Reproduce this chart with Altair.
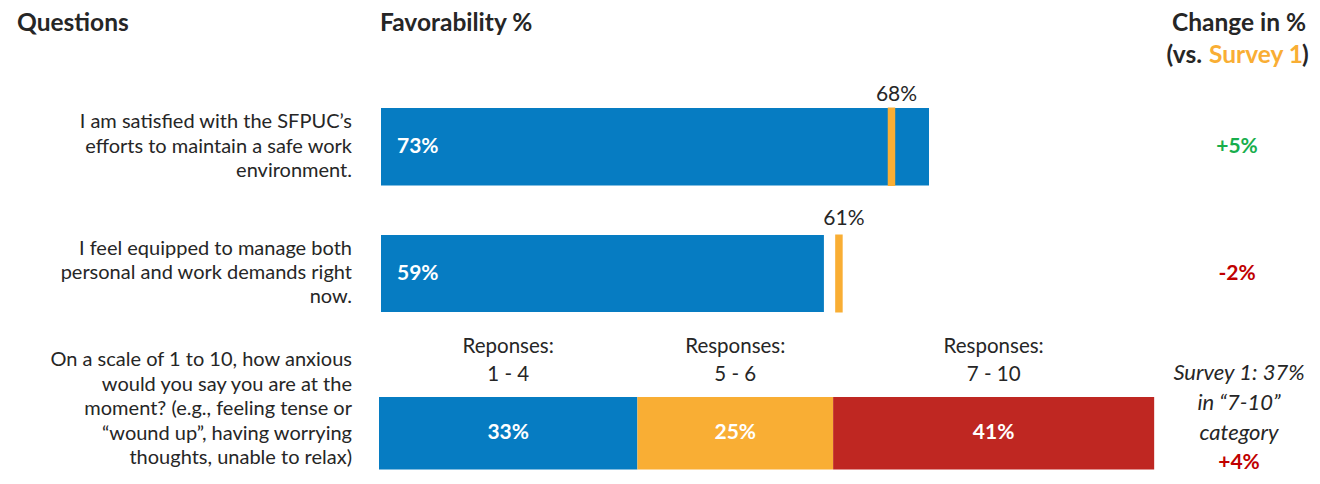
import altair as alt
import pandas as pd

# ---------------- data ----------------
questions = [
    "I am satisfied with the SFPUC\u2019s\nefforts to maintain a safe work\nenvironment.",
    "I feel equipped to manage both\npersonal and work demands right\nnow.",
    "On a scale of 1 to 10, how anxious\nwould you say you are at the\nmoment? (e.g., feeling tense or\n\u201cwound up\u201d, having worrying\nthoughts, unable to relax)",
]
fav_current = [73, 59]
fav_survey1 = [68, 61]
fav_change = ["+5%", "-2%"]

anx_groups = ["Reponses:\n1 - 4", "Responses:\n5 - 6", "Responses:\n7 - 10"]
anx_pct = [33, 25, 41]
anx_note = "Survey 1: 37%\nin \u201c7-10\u201d\ncategory"
anx_change = "+4%"

header_texts = ["Questions", "Favorability %", "Change in %", "(vs.", "Survey 1", ")"]

# ---------------- style ----------------
FONT = "Lato"
TXT = "#262626"
BLUE = "#067CC2"
ORANGE = "#F9AE34"
RED = "#BF2722"
GREEN = "#18AE4C"
DARKRED = "#C00000"
W = 1304
QSIZE = 20
LSIZE = 21
HSIZE = 24.5

xs12 = alt.Scale(domain=[0, 100], range=[373, 1123.7])
xs3 = alt.Scale(domain=[0, 100], range=[371, 1154])


def band_y(height, top, bottom):
    b = bottom - top
    p_o = (height / b - 1) / 2
    align = top / (height - b)
    return alt.Y("q:N", axis=None,
                 scale=alt.Scale(paddingInner=0, paddingOuter=p_o, align=align))


def header_chart():
    df = pd.DataFrame({"label": header_texts, "k": list(range(len(header_texts)))})
    spec = [  # (x, y, align, colour)
        (9, 16, "left", TXT),
        (372, 16, "left", TXT),
        (1231, 16, "center", TXT),
        (1194, 48, "right", TXT),
        (1201, 48, "left", ORANGE),
        (1294, 48, "left", TXT),
    ]
    layers = []
    for k, (xv, yv, al, col) in enumerate(spec):
        layers.append(
            alt.Chart(df).transform_filter(f"datum.k == {k}")
            .mark_text(font=FONT, fontSize=HSIZE, fontWeight="bold", color=col,
                       align=al, baseline="middle")
            .encode(x=alt.value(xv), y=alt.value(yv), text="label:N")
        )
    return alt.layer(*layers).properties(width=W, height=64)


def fav_row(i, height, top, bottom, label_dy, q_dy):
    df = pd.DataFrame({
        "q": [f"q{i}"],
        "question": [questions[i]],
        "cur": [fav_current[i]],
        "s1": [fav_survey1[i]],
        "cur_label": [f"{fav_current[i]}%"],
        "s1_label": [f"{fav_survey1[i]}%"],
        "change": [fav_change[i]],
    })
    y = band_y(height, top, bottom)
    base = alt.Chart(df).encode(y=y)
    qtext = base.mark_text(font=FONT, fontSize=QSIZE, color=TXT, align="right",
                           baseline="middle", lineBreak="\n", lineHeight=24.3,
                           dy=q_dy).encode(
        x=alt.value(344), text="question:N")
    bar = base.mark_bar(color=BLUE).encode(x=alt.X("cur:Q", scale=xs12, axis=None))
    tick = base.mark_tick(color=ORANGE, thickness=7.5, size=bottom - top + 1, opacity=1).encode(
        x=alt.X("s1:Q", scale=xs12, axis=None))
    cur_lab = base.mark_text(font=FONT, fontSize=LSIZE, fontWeight="bold", color="white",
                             align="left", baseline="middle").encode(
        x=alt.value(389), text="cur_label:N")
    s1_lab = base.mark_text(font=FONT, fontSize=LSIZE, color=TXT, align="center",
                            baseline="middle", dy=label_dy, dx=5).encode(
        x=alt.X("s1:Q", scale=xs12, axis=None), text="s1_label:N")
    chg_color = GREEN if fav_change[i].startswith("+") else DARKRED
    chg = base.mark_text(font=FONT, fontSize=LSIZE, fontWeight="bold", color=chg_color,
                         align="center", baseline="middle").encode(
        x=alt.value(1229), text="change:N")
    return alt.layer(qtext, bar, tick, cur_lab, s1_lab, chg).properties(width=W, height=height)


def anx_row(height, top, bottom):
    seg = pd.DataFrame({
        "q": ["q2"] * 3,
        "group": anx_groups,
        "pct": anx_pct,
        "order": [0, 1, 2],
        "pct_label": [f"{p}%" for p in anx_pct],
    })
    info = pd.DataFrame({"q": ["q2"], "question": [questions[2]],
                         "note": [anx_note], "change": [anx_change]})
    y = band_y(height, top, bottom)
    sbase = (alt.Chart(seg)
             .transform_stack(stack="pct", groupby=["q"], as_=["x0", "x1"],
                              sort=[alt.SortField("order", order="ascending")])
             .transform_calculate(mid="(datum.x0 + datum.x1) / 2")
             .encode(y=y))
    bars = sbase.mark_bar().encode(
        x=alt.X("x0:Q", scale=xs3, axis=None), x2="x1:Q",
        color=alt.Color("group:N", legend=None,
                        scale=alt.Scale(domain=anx_groups, range=[BLUE, ORANGE, RED])))
    labs = sbase.mark_text(font=FONT, fontSize=LSIZE, fontWeight="bold", color="white",
                           align="center", baseline="middle").encode(
        x=alt.X("mid:Q", scale=xs3, axis=None), text="pct_label:N")
    grp = sbase.mark_text(font=FONT, fontSize=20.5, color=TXT, align="center",
                          baseline="middle", lineBreak="\n", lineHeight=28, dy=-86).encode(
        x=alt.X("mid:Q", scale=xs3, axis=None), text="group:N")
    ibase = alt.Chart(info).encode(y=y)
    qtext = ibase.mark_text(font=FONT, fontSize=QSIZE, color=TXT, align="right",
                            baseline="middle", lineBreak="\n", lineHeight=24.5, dy=-73).encode(
        x=alt.value(344), text="question:N")
    note = ibase.mark_text(font=FONT, fontSize=22, fontStyle="italic", color=TXT,
                           align="center", baseline="middle", lineBreak="\n",
                           lineHeight=30, dy=-60).encode(
        x=alt.value(1231), text="note:N")
    chg = ibase.mark_text(font=FONT, fontSize=LSIZE, fontWeight="bold", color=DARKRED,
                          align="center", baseline="middle", dy=30).encode(
        x=alt.value(1231), text="change:N")
    return alt.layer(bars, labs, grp, qtext, note, chg).properties(width=W, height=height)


chart = alt.vconcat(
    header_chart(),
    fav_row(0, 126, 36, 113.5, -52, -24.5),
    fav_row(1, 127, 37, 114, -55, -25),
    anx_row(151, 72, 144.5),
    spacing=0,
).properties(padding=0).configure_view(strokeWidth=0)

chart.save("out.html", embed_options={"renderer": "svg", "actions": False})
